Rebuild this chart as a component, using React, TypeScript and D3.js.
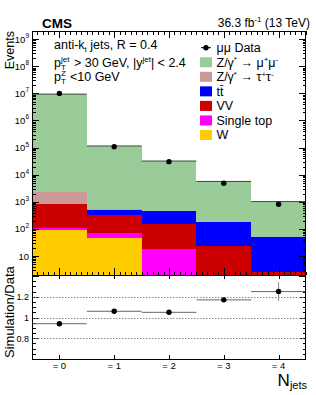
import React, { useRef, useEffect } from 'react';
import * as d3 from 'd3';

// jet multiplicity bins
const nJets = [0, 1, 2, 3, 4];
const binLabels = ['= 0', '= 1', '= 2', '= 3', '= 4'];

// events per bin
const dataEvents = [1.0e7, 1.08e5, 3.03e4, 4840, 812];
const zmumu = [9.4e6, 1.145e5, 3.15e4, 5480, 975];
const ztautau = [1400, 20, 5, 1, 0.3];
const ttbar = [43, 195, 316, 152, 46];
const diboson = [700, 246, 138, 23, 2.3];
const singleTop = [19, 25, 17, 1, 0.3];
const wjets = [92, 47.6, 1.2, 0, 0];

// simulation / data
const ratio = [0.94, 1.06, 1.05, 1.17, 1.25];
const ratioErr = [0.005, 0.008, 0.01, 0.02, 0.09];

const logTicks = [1, 2, 3, 4, 5, 6, 7, 8, 9];
const ratioTicks = [0.8, 1, 1.2];

const stackKeys = ['w', 'st', 'vv', 'tt', 'ztt', 'zmm'];
const stackColors = {
  w: '#ffcc00',
  st: '#ff00ff',
  vv: '#cc0000',
  tt: '#0000ff',
  ztt: '#cc9999',
  zmm: '#99cc99'
};

const font = '"Liberation Sans", Arial, Helvetica, sans-serif';

const App = () => {
  const container = useRef(null);

  useEffect(() => {
    drawChart();
  }, []);

  const drawChart = () => {
    const width = 316;
    const height = 395;
    const up = { l: 32, r: 306, t: 31, b: 275 };
    const lo = { t: 275, b: 359 };

    const svg = d3
      .select(container.current)
      .selectAll('svg')
      .data([0])
      .join('svg')
      .attr('width', width)
      .attr('height', height)
      .style('position', 'absolute')
      .style('left', 0)
      .style('top', 0)
      .style('font-family', font);
    svg.selectAll('*').remove();

    svg.append('rect').attr('width', width).attr('height', height).attr('fill', '#fff');

    const x = d3.scaleLinear().domain([-0.5, 4.5]).range([up.l, up.r]);
    const y = d3.scaleLog().domain([2, 2e9]).range([up.b, up.t]);
    const yr = d3.scaleLinear().domain([0.6, 1.4]).range([lo.b, lo.t + 1]);

    svg
      .append('defs')
      .append('clipPath')
      .attr('id', 'upclip')
      .append('rect')
      .attr('x', up.l)
      .attr('y', up.t)
      .attr('width', up.r - up.l)
      .attr('height', up.b - up.t);

    // stacked backgrounds
    const rows = nJets.map((n, i) => ({
      w: wjets[i],
      st: singleTop[i],
      vv: diboson[i],
      tt: ttbar[i],
      ztt: ztautau[i],
      zmm: zmumu[i]
    }));
    const stacked = d3.stack().keys(stackKeys)(rows);

    const plotg = svg.append('g').attr('clip-path', 'url(#upclip)');
    stacked.forEach(layer => {
      plotg
        .append('g')
        .selectAll('rect')
        .data(layer)
        .join('rect')
        .attr('x', (d, i) => x(nJets[i] - 0.5))
        .attr('width', (d, i) => x(nJets[i] + 0.5) - x(nJets[i] - 0.5))
        .attr('y', d => y(Math.max(d[1], 0.01)))
        .attr('height', d => Math.max(0, y(Math.max(d[0], 0.01)) - y(Math.max(d[1], 0.01))))
        .attr('fill', stackColors[layer.key])
        .attr('shape-rendering', 'crispEdges');
    });

    // outline of total simulation
    plotg
      .selectAll('.mc_top')
      .data(rows)
      .join('line')
      .attr('class', 'mc_top')
      .attr('x1', (d, i) => x(nJets[i] - 0.5))
      .attr('x2', (d, i) => x(nJets[i] + 0.5))
      .attr('y1', d => y(d3.sum(stackKeys, k => d[k])))
      .attr('y2', d => y(d3.sum(stackKeys, k => d[k])))
      .attr('stroke', '#3c4a3c')
      .attr('stroke-width', 1);

    // data points
    svg
      .append('g')
      .selectAll('circle')
      .data(dataEvents)
      .join('circle')
      .attr('cx', (d, i) => x(nJets[i]))
      .attr('cy', d => y(d))
      .attr('r', 2.7)
      .attr('fill', '#000');

    // ticks
    const tickg = svg.append('g').attr('stroke', '#000').attr('stroke-width', 1).attr('shape-rendering', 'crispEdges');
    const yMinor = [];
    for (let k = 0; k <= 9; k++) {
      for (let m = 1; m <= 9; m++) {
        const v = m * Math.pow(10, k);
        if (v >= 2 && v <= 2e9) yMinor.push({ v, major: m === 1 });
      }
    }
    yMinor.forEach(t => {
      const len = t.major ? 7 : 3.5;
      const yy = Math.round(y(t.v)) + 0.5;
      tickg.append('line').attr('x1', up.l).attr('x2', up.l + len).attr('y1', yy).attr('y2', yy);
      tickg.append('line').attr('x1', up.r).attr('x2', up.r - len).attr('y1', yy).attr('y2', yy);
    });
    const xMinor = d3.range(-5, 46).map(v => v / 10);
    xMinor.forEach(v => {
      const major = Math.abs(v - Math.round(v)) < 1e-6;
      const len = major ? 7 : 3.5;
      const xx = Math.round(x(v)) + 0.5;
      tickg.append('line').attr('x1', xx).attr('x2', xx).attr('y1', up.b).attr('y2', up.b - len);
      tickg.append('line').attr('x1', xx).attr('x2', xx).attr('y1', up.t).attr('y2', up.t + len);
    });

    // y tick labels (upper)
    logTicks.forEach(k => {
      const t = svg
        .append('text')
        .attr('x', 29)
        .attr('y', y(Math.pow(10, k)) + 3.5)
        .attr('text-anchor', 'end')
        .attr('font-size', 9.5);
      t.append('tspan').text('10');
      if (k > 1) t.append('tspan').attr('dy', -4.5).attr('font-size', 6.5).text(k);
    });

    // upper frame
    svg
      .append('rect')
      .attr('x', up.l + 0.5)
      .attr('y', up.t + 0.5)
      .attr('width', up.r - up.l - 1)
      .attr('height', up.b - up.t)
      .attr('fill', 'none')
      .attr('stroke', '#000');

    svg
      .append('text')
      .attr('transform', `translate(14, ${up.t}) rotate(-90)`)
      .attr('text-anchor', 'end')
      .attr('font-size', 12.5)
      .text('Events');

    svg
      .append('text')
      .attr('x', 42)
      .attr('y', 28)
      .attr('font-size', 13.5)
      .attr('font-weight', 'bold')
      .text('CMS');

    const lumi = svg
      .append('text')
      .attr('x', 310)
      .attr('y', 26.5)
      .attr('text-anchor', 'end')
      .attr('font-size', 12);
    lumi.append('tspan').text('36.3 fb');
    lumi.append('tspan').attr('dy', -5).attr('font-size', 8).text('-1');
    lumi.append('tspan').attr('dy', 5).style('white-space', 'pre').text(' (13 TeV)');

    // selection text
    const ann = svg.append('g').attr('font-size', 12.5).style('white-space', 'pre');
    const l1 = ann.append('text').attr('x', 54).attr('y', 49);
    l1.append('tspan').text('anti-k');
    l1.append('tspan').attr('dy', 3).attr('font-size', 8).text('t');
    l1.append('tspan').attr('dy', -3).text(' jets,  R = 0.4');

    const l2 = ann.append('text').attr('x', 54).attr('y', 67);
    l2.append('tspan').text('p');
    l2.append('tspan').attr('x', 61).attr('dy', -5.5).attr('font-size', 8).text('jet');
    l2.append('tspan').attr('x', 61).attr('dy', 8.5).attr('font-size', 8).text('T');
    l2.append('tspan').attr('x', 70.5).attr('dy', -3).text(' > 30 GeV,  |y');
    l2.append('tspan').attr('dy', -5.5).attr('font-size', 8).text('jet');
    l2.append('tspan').attr('dy', 5.5).text('| < 2.4');

    const l3 = ann.append('text').attr('x', 54).attr('y', 81);
    l3.append('tspan').text('p');
    l3.append('tspan').attr('x', 61).attr('dy', -5.5).attr('font-size', 8).text('Z');
    l3.append('tspan').attr('x', 61).attr('dy', 8.5).attr('font-size', 8).text('T');
    l3.append('tspan').attr('x', 66.5).attr('dy', -3).text(' <10 GeV');

    // legend
    const lg = svg.append('g').attr('font-size', 12.5).style('white-space', 'pre');
    const rowY = i => 47.7 + i * 14.55;
    const textX = 216.5;
    lg.append('line').attr('x1', 201).attr('x2', 211).attr('y1', rowY(0)).attr('y2', rowY(0)).attr('stroke', '#000');
    lg.append('circle').attr('cx', 206).attr('cy', rowY(0)).attr('r', 2.7).attr('fill', '#000');
    lg.append('text').attr('x', textX).attr('y', rowY(0) + 4.3).text('\u03bc\u03bc Data');

    const legendKeys = ['zmm', 'ztt', 'tt', 'vv', 'st', 'w'];
    legendKeys.forEach((k, j) => {
      lg.append('rect')
        .attr('x', 200)
        .attr('y', rowY(j + 1) - 5)
        .attr('width', 12)
        .attr('height', 10)
        .attr('fill', stackColors[k]);
    });
    const zt = (i, lep) => {
      const t = lg.append('text').attr('x', textX).attr('y', rowY(i) + 4.3);
      t.append('tspan').text('Z/\u03b3');
      t.append('tspan').attr('dy', -4.5).attr('font-size', 8).text('*');
      t.append('tspan').attr('dy', 4.5).text(' \u2192 ' + lep);
      t.append('tspan').attr('dy', -4.5).attr('font-size', 8).text('+');
      t.append('tspan').attr('dy', 4.5).text(lep);
      t.append('tspan').attr('dy', -4.5).attr('font-size', 8).text('-');
    };
    zt(1, '\u03bc');
    zt(2, '\u03c4');
    lg.append('text').attr('x', textX).attr('y', rowY(3) + 4.3).text('tt');
    lg.append('line')
      .attr('x1', textX + 3.5)
      .attr('x2', textX + 6.9)
      .attr('y1', rowY(3) - 5.8)
      .attr('y2', rowY(3) - 5.8)
      .attr('stroke', '#000')
      .attr('stroke-width', 0.8);
    lg.append('text').attr('x', textX).attr('y', rowY(4) + 4.3).text('VV');
    lg.append('text').attr('x', textX).attr('y', rowY(5) + 4.3).text('Single top');
    lg.append('text').attr('x', textX).attr('y', rowY(6) + 4.3).text('W');

    // ratio panel
    const lowg = svg.append('g');
    lowg
      .selectAll('.grid')
      .data(ratioTicks)
      .join('line')
      .attr('class', 'grid')
      .attr('x1', up.l)
      .attr('x2', up.r)
      .attr('y1', d => Math.round(yr(d)) + 0.5)
      .attr('y2', d => Math.round(yr(d)) + 0.5)
      .attr('stroke', '#8a8a8a')
      .attr('stroke-dasharray', '1.5,1.5');

    lowg
      .selectAll('.rline')
      .data(ratio)
      .join('line')
      .attr('class', 'rline')
      .attr('x1', (d, i) => x(nJets[i] - 0.5))
      .attr('x2', (d, i) => x(nJets[i] + 0.5))
      .attr('y1', d => yr(d))
      .attr('y2', d => yr(d))
      .attr('stroke', '#666');
    lowg
      .selectAll('.rerr')
      .data(ratio)
      .join('line')
      .attr('class', 'rerr')
      .attr('x1', (d, i) => x(nJets[i]))
      .attr('x2', (d, i) => x(nJets[i]))
      .attr('y1', (d, i) => yr(d + ratioErr[i]))
      .attr('y2', (d, i) => yr(d - ratioErr[i]))
      .attr('stroke', '#888');
    lowg
      .selectAll('circle')
      .data(ratio)
      .join('circle')
      .attr('cx', (d, i) => x(nJets[i]))
      .attr('cy', d => yr(d))
      .attr('r', 2.7)
      .attr('fill', '#000');

    const rTicks = d3.range(12, 29).map(v => v / 20);
    rTicks.forEach(v => {
      const major = Math.abs(v * 5 - Math.round(v * 5)) < 1e-6;
      const len = major ? 7 : 3.5;
      const yy = Math.round(yr(v)) + 0.5;
      tickg.append('line').attr('x1', up.l).attr('x2', up.l + len).attr('y1', yy).attr('y2', yy);
      tickg.append('line').attr('x1', up.r).attr('x2', up.r - len).attr('y1', yy).attr('y2', yy);
    });
    nJets.forEach(n => {
      const xx = Math.round(x(n)) + 0.5;
      tickg.append('line').attr('x1', xx).attr('x2', xx).attr('y1', lo.b).attr('y2', lo.b - 4);
      tickg.append('line').attr('x1', xx).attr('x2', xx).attr('y1', lo.t).attr('y2', lo.t + 4);
    });

    svg
      .append('g')
      .selectAll('text')
      .data(ratioTicks)
      .join('text')
      .attr('x', 29)
      .attr('y', d => yr(d) + 3.3)
      .attr('text-anchor', 'end')
      .attr('font-size', 9)
      .text(d => d3.format('~g')(d));

    svg
      .append('g')
      .selectAll('text')
      .data(binLabels)
      .join('text')
      .attr('x', (d, i) => x(nJets[i]))
      .attr('y', 369)
      .attr('text-anchor', 'middle')
      .attr('font-size', 9.5)
      .style('white-space', 'pre')
      .text(d => d);

    svg
      .append('path')
      .attr('d', `M${up.l + 0.5},${lo.t} V${lo.b + 0.5} H${up.r - 0.5} V${lo.t}`)
      .attr('fill', 'none')
      .attr('stroke', '#000');

    svg
      .append('text')
      .attr('transform', `translate(14, 358) rotate(-90)`)
      .attr('text-anchor', 'start')
      .attr('font-size', 13)
      .text('Simulation/Data');

    const nj = svg
      .append('text')
      .attr('x', 307)
      .attr('y', 386)
      .attr('text-anchor', 'end')
      .attr('font-size', 17);
    nj.append('tspan').text('N');
    nj.append('tspan').attr('dy', 2.5).attr('font-size', 11).text('jets');
  };

  return <div className="chart-container" ref={container}></div>;
};

export default App;
